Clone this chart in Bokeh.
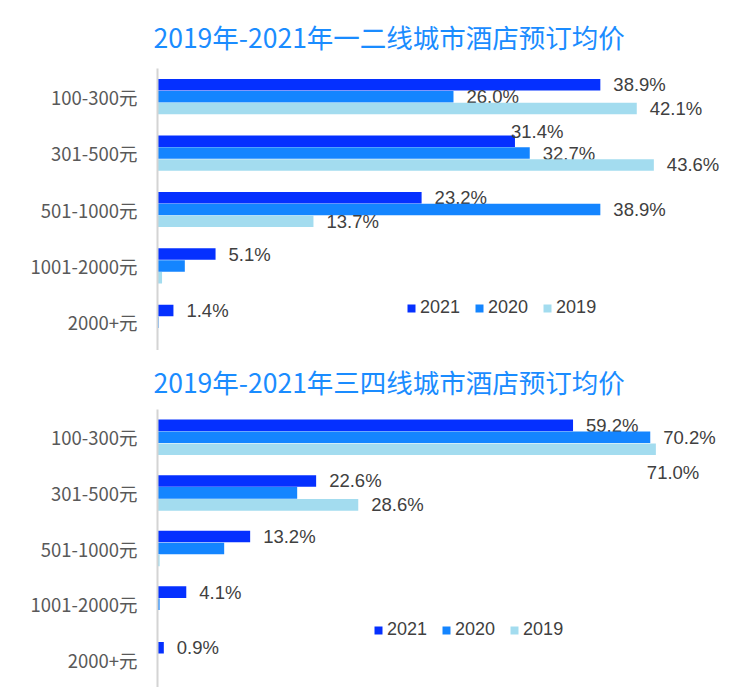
from bokeh.plotting import figure
from bokeh.models import FactorRange, Range1d, ColumnDataSource
from bokeh.transform import dodge
from bokeh.layouts import column
from bokeh.core.properties import value
from bokeh.embed import file_html
from bokeh.resources import INLINE

categories = ["100-300元", "301-500元", "501-1000元", "1001-2000元", "2000+元"]
series_names = ["2021", "2020", "2019"]

top_title = "2019年-2021年一二线城市酒店预订均价"
top_2021 = [38.9, 31.4, 23.2, 5.1, 1.4]
top_2020 = [26.0, 32.7, 38.9, 2.4, 0.1]
top_2019 = [42.1, 43.6, 13.7, 0.4, 0.05]
top_show_2021 = [True, True, True, True, True]
top_show_2020 = [True, True, True, False, False]
top_show_2019 = [True, True, True, False, False]

bottom_title = "2019年-2021年三四线城市酒店预订均价"
bottom_2021 = [59.2, 22.6, 13.2, 4.1, 0.9]
bottom_2020 = [70.2, 19.9, 9.5, 0.3, 0.0]
bottom_2019 = [71.0, 28.6, 0.3, 0.0, 0.0]
bottom_show_2021 = [True, True, True, True, True]
bottom_show_2020 = [True, False, False, False, False]
bottom_show_2019 = [True, True, False, False, False]

COLORS = ["#0530ff", "#1485ff", "#a3dcef"]
TITLE_COLOR = "#1a8cff"
LABEL_FONT = "Liberation Sans"
CJK_FONT = "Noto Sans CJK SC"
LABEL_DX = 13
# label nudges (style): (chart, series, row) -> (dx, dy) in screen px
LABEL_NUDGE = {
    ("top", "2021", 1): (-17, -10),
    ("bottom", "2019", 0): (-22, 23),
}


def make_chart(key, title, vals, shows, height, border_top, border_left,
               border_bottom, x_end, bar_h, legend_loc, title_standoff):
    p = figure(width=741, height=height, output_backend="svg",
               toolbar_location=None,
               y_range=FactorRange(factors=list(reversed(categories)), range_padding=0),
               x_range=Range1d(0, x_end),
               min_border_top=border_top, min_border_left=border_left,
               min_border_right=0, min_border_bottom=border_bottom)
    p.title.text = title
    p.title.text_font = CJK_FONT
    p.title.text_font_size = "26.5px"
    p.title.text_font_style = "normal"
    p.title.text_color = TITLE_COLOR
    p.title.align = "left"
    p.title.offset = -4
    p.title.standoff = title_standoff
    offsets = [bar_h, 0.0, -bar_h]
    for name, v, s, c, off in zip(series_names, vals, shows, COLORS, offsets):
        xo = []
        yo = []
        for i in range(len(v)):
            dx, dy = LABEL_NUDGE.get((key, name, i), (0, 0))
            xo.append(LABEL_DX + dx)
            yo.append(dy)
        src = ColumnDataSource(dict(cat=categories, val=v, xo=xo, yo=yo,
                                    lab=[f"{x:.1f}%" if sh else "" for x, sh in zip(v, s)]))
        yd = dodge("cat", off, range=p.y_range)
        p.hbar(y=yd, right="val", left=0, height=bar_h * 0.97, source=src,
               fill_color=c, line_color=None, legend_label=name)
        p.text(x="val", y=yd, text="lab", source=src, x_offset="xo", y_offset="yo",
               text_baseline="middle", text_align="left",
               text_font=value(LABEL_FONT), text_font_size=value("18.5px"),
               text_color="#404040")
    p.xaxis.visible = False
    p.xgrid.visible = False
    p.ygrid.visible = False
    p.outline_line_color = None
    ax = p.yaxis[0]
    ax.axis_line_color = "#d4d4d4"
    ax.axis_line_width = 2
    ax.major_tick_line_color = None
    ax.minor_tick_line_color = None
    ax.major_label_standoff = 14
    ax.major_label_text_font = CJK_FONT
    ax.major_label_text_font_size = "18.5px"
    ax.major_label_text_color = "#595959"
    lg = p.legend[0]
    lg.location = legend_loc
    lg.orientation = "horizontal"
    lg.padding = 0
    lg.margin = 0
    lg.border_line_color = None
    lg.background_fill_alpha = 0
    lg.glyph_width = 10
    lg.glyph_height = 10
    lg.label_standoff = 4
    lg.spacing = 14
    lg.label_text_font = LABEL_FONT
    lg.label_text_font_size = "18px"
    lg.label_text_color = "#404040"
    return p


p1 = make_chart("top", top_title, [top_2021, top_2020, top_2019],
                [top_show_2021, top_show_2020, top_show_2019],
                height=350, border_top=68, border_left=156, border_bottom=0,
                x_end=51.3, bar_h=0.21, legend_loc=(249, 32), title_standoff=26)
p2 = make_chart("bottom", bottom_title, [bottom_2021, bottom_2020, bottom_2019],
                [bottom_show_2021, bottom_show_2020, bottom_show_2019],
                height=337, border_top=59, border_left=157, border_bottom=0,
                x_end=83.2, bar_h=0.215, legend_loc=(216, 47), title_standoff=18)

layout = column(p1, p2, spacing=0)
open("out.html", "w").write(file_html(layout, INLINE))
